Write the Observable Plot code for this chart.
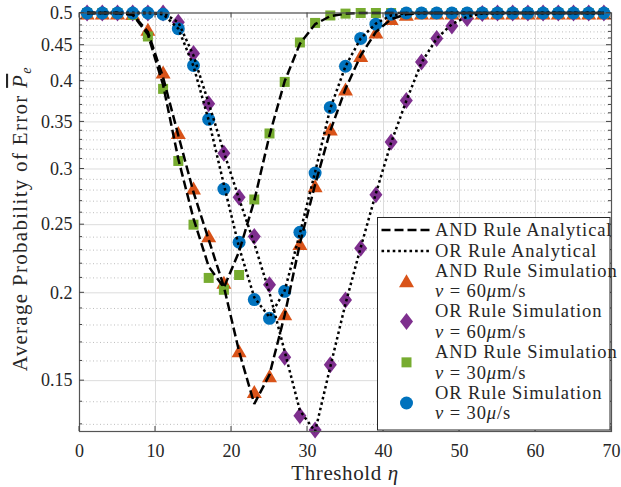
<!DOCTYPE html>
<html>
<head>
<meta charset="utf-8">
<script src="https://cdn.jsdelivr.net/npm/d3@7"></script>
<script src="https://cdn.jsdelivr.net/npm/@observablehq/plot@0.6"></script>
<style>
  body { margin: 0; background: #fff; }
  #chart svg { display: block; }
</style>
</head>
<body>
<div id="chart"></div>
<script>
// Threshold values (odd integers) at which every curve is evaluated
const thresholds = [1, 3, 5, 7, 9, 11, 13, 15, 17, 19, 21, 23, 25, 27, 29, 31, 33, 35,
  37, 39, 41, 43, 45, 47, 49, 51, 53, 55, 57, 59, 61, 63, 65, 67, 69];

// Analytical average error probability
const andAnalytical60 = [0.5, 0.5, 0.5, 0.498, 0.47, 0.405, 0.335, 0.278, 0.238, 0.204, 0.165, 0.139,
  0.153, 0.186, 0.235, 0.285, 0.34, 0.39, 0.435, 0.47, 0.49, 0.498, 0.5, 0.5, 0.5, 0.5, 0.5, 0.5,
  0.5, 0.5, 0.5, 0.5, 0.5, 0.5, 0.5];
const andAnalytical30 = [0.5, 0.5, 0.5, 0.497, 0.466, 0.395, 0.31, 0.255, 0.218, 0.2035, 0.229, 0.2705,
  0.335, 0.4, 0.452, 0.482, 0.495, 0.499, 0.5, 0.5, 0.5, 0.5, 0.5, 0.5, 0.5, 0.5, 0.5, 0.5,
  0.5, 0.5, 0.5, 0.5, 0.5, 0.5, 0.5];
const orAnalytical60 = [0.5, 0.5, 0.5, 0.5, 0.5, 0.5, 0.485, 0.435, 0.372, 0.317, 0.272, 0.235,
  0.2, 0.165, 0.136, 0.127, 0.157, 0.193, 0.232, 0.277, 0.327, 0.375, 0.425, 0.46, 0.482, 0.494,
  0.499, 0.5, 0.5, 0.5, 0.5, 0.5, 0.5, 0.5, 0.5];
const orAnalytical30 = [0.5, 0.5, 0.5, 0.5, 0.5, 0.498, 0.475, 0.42, 0.352, 0.285, 0.232, 0.197,
  0.1846, 0.2015, 0.243, 0.297, 0.366, 0.42, 0.46, 0.483, 0.496, 0.5, 0.5, 0.5, 0.5, 0.5, 0.5,
  0.5, 0.5, 0.5, 0.5, 0.5, 0.5, 0.5, 0.5];

// Simulated average error probability
const andSimulation60 = [0.5, 0.5, 0.5, 0.499, 0.474, 0.412, 0.338, 0.282, 0.241, 0.207, 0.1655, 0.1448,
  0.1524, 0.1867, 0.235, 0.284, 0.342, 0.39, 0.435, 0.47, 0.491, 0.498, 0.5, 0.5, 0.5, 0.5, 0.5,
  0.5, 0.5, 0.5, 0.5, 0.5, 0.5, 0.5, 0.5];
const orSimulation60 = [0.5, 0.5, 0.5, 0.5, 0.5, 0.5, 0.485, 0.438, 0.3715, 0.316, 0.2735, 0.2405,
  0.2053, 0.162, 0.1337, 0.1276, 0.158, 0.1954, 0.2314, 0.2757, 0.3276, 0.3755, 0.426, 0.46, 0.479,
  0.491, 0.499, 0.5, 0.5, 0.5, 0.5, 0.5, 0.5, 0.5, 0.5];
const andSimulation30 = [0.5, 0.5, 0.5, 0.497, 0.463, 0.39, 0.308, 0.25, 0.21, 0.202, 0.212, 0.2715,
  0.337, 0.399, 0.454, 0.484, 0.496, 0.499, 0.5, 0.5, 0.5, 0.5, 0.5, 0.5, 0.5, 0.5, 0.5, 0.5,
  0.5, 0.5, 0.5, 0.5, 0.5, 0.5, 0.5];
const orSimulation30 = [0.5, 0.5, 0.5, 0.5, 0.5, 0.498, 0.475, 0.421, 0.353, 0.281, 0.236, 0.1956,
  0.184, 0.201, 0.2438, 0.296, 0.367, 0.42, 0.46, 0.482, 0.498, 0.5, 0.5, 0.5, 0.5, 0.5, 0.5,
  0.5, 0.5, 0.5, 0.5, 0.5, 0.5, 0.5, 0.5];

// Axis ticks
const xTicks = [0, 10, 20, 30, 40, 50, 60, 70];
const yTicks = [0.15, 0.2, 0.25, 0.3, 0.35, 0.4, 0.45, 0.5];
const yMinorTicks = [0.13, 0.14, 0.16, 0.17, 0.18, 0.19, 0.21, 0.22, 0.23, 0.24, 0.26, 0.27, 0.28,
  0.29, 0.31, 0.32, 0.33, 0.34, 0.36, 0.37, 0.38, 0.39, 0.41, 0.42, 0.43, 0.44, 0.46, 0.47, 0.48, 0.49];

// Legend entries
const legendLines = ["AND Rule Analytical", "OR Rule Analytical"];
const legendMarkers = [
  {name: "AND Rule Simulation", speed: "60", unit: "m/s"},
  {name: "OR Rule Simulation", speed: "60", unit: "m/s"},
  {name: "AND Rule Simulation", speed: "30", unit: "m/s"},
  {name: "OR Rule Simulation", speed: "30", unit: "/s"}
];

const colors = {orange: "#D95319", purple: "#7E2F8E", green: "#77AC30", blue: "#0072BD"};
const font = "'Liberation Serif', 'Times New Roman', serif";

const series = arr => thresholds.map((t, i) => ({x: t, y: arr[i]}));

// Marker shapes (size = π r², r = 1 gives unit scale)
const unit = size => Math.sqrt(size / Math.PI);
const triangleUp = {draw(ctx, size) { const s = unit(size);
  ctx.moveTo(0, -6.5 * s); ctx.lineTo(7.5 * s, 6.5 * s); ctx.lineTo(-7.5 * s, 6.5 * s); ctx.closePath(); }};
const diamond = {draw(ctx, size) { const s = unit(size);
  ctx.moveTo(0, -8.5 * s); ctx.lineTo(6.5 * s, 0); ctx.lineTo(0, 8.5 * s); ctx.lineTo(-6.5 * s, 0); ctx.closePath(); }};
const square = {draw(ctx, size) { const s = unit(size);
  ctx.rect(-5 * s, -5 * s, 10 * s, 10 * s); }};
const circle = {draw(ctx, size) { const s = unit(size);
  ctx.moveTo(6.5 * s, 0); ctx.arc(0, 0, 6.5 * s, 0, 2 * Math.PI); }};

const dashed = "9,4";
const dotted = "2.6,3";

const markerSeries = [
  {data: andSimulation60, symbol: triangleUp, fill: colors.orange},
  {data: orSimulation60, symbol: diamond, fill: colors.purple},
  {data: andSimulation30, symbol: square, fill: colors.green},
  {data: orSimulation30, symbol: circle, fill: colors.blue}
];
const lineSeries = [
  {data: andAnalytical60, dash: dashed},
  {data: andAnalytical30, dash: dashed},
  {data: orAnalytical60, dash: dotted},
  {data: orAnalytical30, dash: dotted}
];

const chart = Plot.plot({
  width: 621,
  height: 487,
  marginLeft: 79,
  marginRight: 10,
  marginTop: 12.5,
  marginBottom: 56,
  style: {fontFamily: font, fontSize: "18px", color: "#262626", background: "#fff", overflow: "visible"},
  x: {domain: [0, 70], ticks: xTicks, tickSize: 0, tickPadding: 12.5, label: null},
  y: {type: "log", domain: [0.127, 0.5], ticks: yTicks, tickFormat: d => String(d), tickSize: 0, tickPadding: 7, label: null},
  marks: [
    Plot.ruleY(yMinorTicks, {stroke: "#bdbdbd", strokeDasharray: "1,2.5", strokeWidth: 1}),
    Plot.ruleY(yTicks, {stroke: "#dcdcdc", strokeWidth: 1}),
    Plot.ruleX(xTicks, {stroke: "#dcdcdc", strokeWidth: 1}),
    ...markerSeries.map(s => Plot.dot(series(s.data), {x: "x", y: "y", r: 1, symbol: s.symbol, fill: s.fill, stroke: "none"})),
    ...lineSeries.map(s => Plot.line(series(s.data), {x: "x", y: "y", stroke: "#000", strokeWidth: 2.5,
      strokeDasharray: s.dash, strokeLinecap: "butt", strokeLinejoin: "miter"})),
    Plot.frame({stroke: "#555", strokeWidth: 1.2})
  ]
});

document.getElementById("chart").appendChild(chart);

// Inward tick marks on all four sides, positioned with the chart's scales
const sx = chart.scale("x"), sy = chart.scale("y");
const svg = d3.select(chart);
const [plotLeft, plotRight] = sx.range;
const [plotBottom, plotTop] = sy.range;
const tickLayer = svg.append("g").attr("stroke", "#444").attr("stroke-width", 1);
for (const v of yTicks) {
  const y = sy.apply(v);
  tickLayer.append("line").attr("x1", plotLeft).attr("x2", plotLeft + 5).attr("y1", y).attr("y2", y);
  tickLayer.append("line").attr("x1", plotRight - 5).attr("x2", plotRight).attr("y1", y).attr("y2", y);
}
for (const v of yMinorTicks) {
  const y = sy.apply(v);
  tickLayer.append("line").attr("x1", plotLeft).attr("x2", plotLeft + 3).attr("y1", y).attr("y2", y);
  tickLayer.append("line").attr("x1", plotRight - 3).attr("x2", plotRight).attr("y1", y).attr("y2", y);
}
for (const v of xTicks) {
  const x = sx.apply(v);
  tickLayer.append("line").attr("x1", x).attr("x2", x).attr("y1", plotBottom).attr("y2", plotBottom - 5);
  tickLayer.append("line").attr("x1", x).attr("x2", x).attr("y1", plotTop).attr("y2", plotTop + 5);
}

// Axis titles
const xLabel = svg.append("text")
  .attr("x", (plotLeft + plotRight) / 2).attr("y", 480)
  .attr("text-anchor", "middle").attr("font-family", font).attr("font-size", 21)
  .attr("letter-spacing", 0.6).attr("fill", "#262626");
xLabel.append("tspan").text("Threshold ");
xLabel.append("tspan").attr("font-style", "italic").text("η");

const yLabel = svg.append("text")
  .attr("transform", `translate(27,${(plotTop + plotBottom) / 2 - 3}) rotate(-90)`)
  .attr("text-anchor", "middle").attr("font-family", font).attr("font-size", 21)
  .attr("letter-spacing", 1.3).attr("fill", "#262626");
yLabel.append("tspan").text("Average Probability of Error ");
yLabel.append("tspan").attr("font-style", "italic").attr("text-decoration", "overline").text("P");
yLabel.append("tspan").attr("font-style", "italic").attr("font-size", 14).attr("dy", 4).text("e");

// Legend
const lg = svg.append("g").attr("font-family", font).attr("font-size", 18.5)
  .attr("letter-spacing", 0.9).attr("text-anchor", "start").attr("fill", "#262626");
lg.append("rect").attr("x", 377.5).attr("y", 217.5).attr("width", 232.5).attr("height", 212.5)
  .attr("fill", "#fff").attr("stroke", "#262626").attr("stroke-width", 1);
const lineRows = [230, 251];
legendLines.forEach((name, i) => {
  const y = lineRows[i];
  lg.append("line").attr("x1", 381.5).attr("x2", 431.5).attr("y1", y).attr("y2", y)
    .attr("stroke", "#000").attr("stroke-width", 2.5)
    .attr("stroke-dasharray", i === 0 ? dashed : dotted);
  lg.append("text").attr("x", 435).attr("y", y).attr("dy", "0.33em").text(name);
});
const markerRows = [[270.7, 290.7], [311.3, 331.7], [352, 372.7], [392.7, 413.3]];
legendMarkers.forEach((entry, i) => {
  const [y1, y2] = markerRows[i];
  const s = markerSeries[i];
  lg.append("path").attr("transform", `translate(406.5,${(y1 + y2) / 2})`)
    .attr("d", d3.symbol(s.symbol, Math.PI)()).attr("fill", s.fill);
  lg.append("text").attr("x", 435).attr("y", y1).attr("dy", "0.33em").text(entry.name);
  const t = lg.append("text").attr("x", 435).attr("y", y2).attr("dy", "0.33em");
  t.append("tspan").attr("font-style", "italic").text("v");
  t.append("tspan").text(" = " + entry.speed);
  t.append("tspan").attr("font-style", "italic").text("μ");
  t.append("tspan").text(entry.unit);
});
</script>
</body>
</html>
